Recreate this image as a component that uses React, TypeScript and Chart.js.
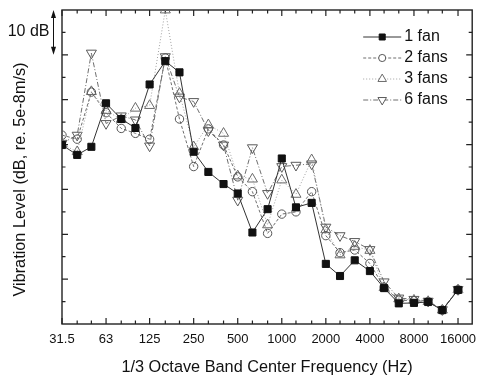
import React, { useEffect, useRef } from "react";
import { Chart, registerables } from "chart.js";

Chart.register(...registerables);

// 1/3 octave band centre frequencies (Hz)
const bands = [31.5, 40, 50, 63, 80, 100, 125, 160, 200, 250, 315, 400, 500, 630, 800, 1000, 1250, 1600, 2000, 2500, 3150, 4000, 5000, 6300, 8000, 10000, 12500, 16000];
const octaveTicks = [31.5, 63, 125, 250, 500, 1000, 2000, 4000, 8000, 16000];

// vibration level (dB, arbitrary offset: axis runs 0..70)
const oneFan = [39.9, 37.7, 39.5, 49.2, 45.7, 43.7, 53.4, 58.6, 56.1, 38.4, 33.9, 31.2, 29.1, 20.4, 25.6, 36.9, 26.0, 27.0, 13.4, 10.7, 14.2, 11.8, 8.0, 4.6, 4.7, 4.9, 3.1, 7.6];
const twoFans = [42.1, 41.2, 51.7, 47.1, 43.6, 42.5, 41.2, 59.3, 45.7, 35.1, 43.5, 39.9, 32.8, 29.5, 20.2, 24.5, 25.0, 29.5, 19.7, 15.9, 16.5, 13.5, 8.2, 5.3, 5.2, 5.0, 3.1, 7.6];
const threeFans = [40.1, 38.4, 51.8, 47.6, 45.6, 48.1, 48.7, 70.0, 51.4, 39.5, 44.4, 42.5, 33.0, 32.3, 22.1, 32.1, 28.9, 36.6, 21.0, 15.4, 17.3, 16.4, 8.1, 5.6, 5.3, 5.0, 3.1, 7.6];
const sixFans = [40.3, 42.1, 60.4, 44.7, 46.4, 45.5, 39.7, 59.6, 50.6, 49.6, 43.1, 39.9, 27.6, 39.3, 29.1, 35.1, 35.4, 35.7, 21.6, 19.7, 18.4, 16.6, 9.4, 5.8, 5.5, 5.1, 3.2, 7.7];

const seriesNames = ["1 fan", "2 fans", "3 fans", "6 fans"];
const seriesValues = [oneFan, twoFans, threeFans, sixFans];

const yMin = 0;
const yMax = 70;
const yTitle = "Vibration Level (dB, re. 5e-8m/s)";
const xTitle = "1/3 Octave Band Center Frequency (Hz)";
const scaleLabel = "10 dB";

const FONT = '"Liberation Sans", Arial, sans-serif';

const seriesStyles = [
  { line: "#333333", dash: [] as number[], marker: "rect", rot: 0, r: 5, fill: "#111111", stroke: "#111111" },
  { line: "#6e6e6e", dash: [3, 2], marker: "circle", rot: 0, r: 4.2, fill: "rgba(0,0,0,0)", stroke: "#555555" },
  { line: "#a0a0a0", dash: [1, 2], marker: "triangle", rot: 0, r: 5.8, fill: "rgba(0,0,0,0)", stroke: "#6a6a6a" },
  { line: "#6e6e6e", dash: [5, 2, 1, 2], marker: "triangle", rot: 180, r: 5.8, fill: "rgba(0,0,0,0)", stroke: "#5a5a5a" },
];

function drawMarker(ctx: CanvasRenderingContext2D, style: string, x: number, y: number, r: number, rotation: number, fill: string, stroke: string) {
  ctx.beginPath();
  if (style === "rect") {
    const s = r * Math.SQRT1_2;
    ctx.rect(x - s, y - s, 2 * s, 2 * s);
  } else if (style === "circle") {
    ctx.arc(x, y, r, 0, Math.PI * 2);
  } else {
    let rad = (rotation * Math.PI) / 180;
    ctx.moveTo(x + Math.sin(rad) * r, y - Math.cos(rad) * r);
    rad += (2 * Math.PI) / 3;
    ctx.lineTo(x + Math.sin(rad) * r, y - Math.cos(rad) * r);
    rad += (2 * Math.PI) / 3;
    ctx.lineTo(x + Math.sin(rad) * r, y - Math.cos(rad) * r);
    ctx.closePath();
  }
  ctx.fillStyle = fill;
  ctx.fill();
  ctx.setLineDash([]);
  ctx.lineWidth = 1;
  ctx.strokeStyle = stroke;
  ctx.stroke();
}

const framePlugin = {
  id: "frame",
  beforeDatasetsDraw(chart: any) {
    const { ctx, chartArea, scales } = chart;
    const { left, top, right, bottom } = chartArea;
    const x = scales.x;
    const y = scales.y;
    ctx.save();
    ctx.strokeStyle = "#222";
    ctx.lineWidth = 1.2;
    ctx.beginPath();
    for (const f of bands) {
      const px = x.getPixelForValue(f);
      const len = octaveTicks.includes(f) ? 6 : 3.5;
      ctx.moveTo(px, bottom);
      ctx.lineTo(px, bottom - len);
      ctx.moveTo(px, top);
      ctx.lineTo(px, top + len);
    }
    for (let v = yMin + 5; v < yMax; v += 5) {
      const py = y.getPixelForValue(v);
      const len = v % 10 === 0 ? 6 : 3.5;
      ctx.moveTo(left, py);
      ctx.lineTo(left + len, py);
      ctx.moveTo(right, py);
      ctx.lineTo(right - len, py);
    }
    ctx.stroke();
    ctx.lineWidth = 1.4;
    ctx.strokeRect(left, top, right - left, bottom - top);
    ctx.restore();
  },
};

const overlayPlugin = {
  id: "overlay",
  afterDraw(chart: any) {
    const { ctx, chartArea, scales } = chart;
    const { left, top, right } = chartArea;
    const y = scales.y;
    ctx.save();

    // y-axis title
    ctx.save();
    ctx.translate(20.5, 179.5);
    ctx.rotate(-Math.PI / 2);
    ctx.font = `16.3px ${FONT}`;
    ctx.fillStyle = "#111";
    ctx.textAlign = "center";
    ctx.textBaseline = "middle";
    ctx.fillText(yTitle, 0, 0);
    ctx.restore();

    // 10 dB scale arrow
    const ax = left - 8.5;
    const y1 = y.getPixelForValue(70);
    const y2 = y.getPixelForValue(60);
    ctx.strokeStyle = "#111";
    ctx.fillStyle = "#111";
    ctx.lineWidth = 1;
    ctx.beginPath();
    ctx.moveTo(ax, y1 + 3);
    ctx.lineTo(ax, y2 - 3);
    ctx.stroke();
    ctx.beginPath();
    ctx.moveTo(ax, y1);
    ctx.lineTo(ax - 2.5, y1 + 8);
    ctx.lineTo(ax + 2.5, y1 + 8);
    ctx.closePath();
    ctx.fill();
    ctx.beginPath();
    ctx.moveTo(ax, y2);
    ctx.lineTo(ax - 2.5, y2 - 8);
    ctx.lineTo(ax + 2.5, y2 - 8);
    ctx.closePath();
    ctx.fill();
    ctx.font = `16px ${FONT}`;
    ctx.textAlign = "right";
    ctx.textBaseline = "middle";
    ctx.fillText(scaleLabel, ax - 4, (y1 + y2) / 2 - 1);

    // legend
    ctx.textAlign = "left";
    for (let i = 0; i < seriesNames.length; i++) {
      const st = seriesStyles[i];
      const ry = top + 27 + i * 21;
      const lx1 = right - 109;
      const lx2 = right - 71;
      ctx.beginPath();
      ctx.setLineDash(st.dash);
      ctx.strokeStyle = st.line;
      ctx.lineWidth = 1;
      ctx.moveTo(lx1, ry);
      ctx.lineTo(lx2, ry);
      ctx.stroke();
      drawMarker(ctx, st.marker, (lx1 + lx2) / 2, ry, st.r * 0.85, st.rot, st.fill === "rgba(0,0,0,0)" ? "#fff" : st.fill, st.stroke);
      ctx.fillStyle = "#111";
      ctx.fillText(seriesNames[i], lx2 + 3, ry);
    }
    ctx.restore();
  },
};

export default function App() {
  const ref = useRef<HTMLCanvasElement>(null);
  useEffect(() => {
    document.body.style.margin = "0";
    const canvas = ref.current;
    if (!canvas) return;
    const datasets = seriesNames.map((name, i) => {
      const st = seriesStyles[i];
      return {
        label: name,
        data: bands.map((f, j) => ({ x: f, y: seriesValues[i][j] })),
        borderColor: st.line,
        borderWidth: 1,
        borderDash: st.dash,
        pointStyle: st.marker,
        pointRotation: st.rot,
        pointRadius: st.r,
        pointBackgroundColor: st.fill,
        pointBorderColor: st.stroke,
        pointBorderWidth: 1,
        tension: 0,
        fill: false,
      };
    });
    const chart = new Chart(canvas, {
      type: "line",
      data: { datasets: datasets as any },
      options: {
        responsive: false,
        animation: false,
        events: [],
        layout: { padding: { top: 10, right: 4, left: 0, bottom: 0 } },
        plugins: { legend: { display: false }, tooltip: { enabled: false } },
        scales: {
          x: {
            type: "logarithmic",
            min: 31.5,
            max: 20000,
            grid: { display: false, drawTicks: false },
            border: { display: false },
            afterBuildTicks: (s: any) => {
              s.ticks = octaveTicks.map((v) => ({ value: v }));
            },
            afterFit: (s: any) => {
              s.height = 52;
              s.paddingLeft = 0;
              s.paddingRight = 0;
            },
            ticks: {
              autoSkip: false,
              maxRotation: 0,
              minRotation: 0,
              padding: 8,
              color: "#111",
              font: { family: FONT, size: 13 },
              callback: (v: any) => String(v),
            },
            title: {
              display: true,
              text: xTitle,
              color: "#111",
              font: { family: FONT, size: 16.3 },
              padding: { top: 0, bottom: -1.5 },
            },
          },
          y: {
            type: "linear",
            min: yMin,
            max: yMax,
            grid: { display: false, drawTicks: false },
            border: { display: false },
            ticks: { display: false },
            afterFit: (s: any) => {
              s.width = 62;
              s.paddingTop = 0;
              s.paddingBottom = 0;
            },
            title: { display: false },
          },
        },
      } as any,
      plugins: [framePlugin, overlayPlugin],
    });
    return () => chart.destroy();
  }, []);
  return <canvas ref={ref} width={479} height={376} style={{ display: "block" }} />;
}
